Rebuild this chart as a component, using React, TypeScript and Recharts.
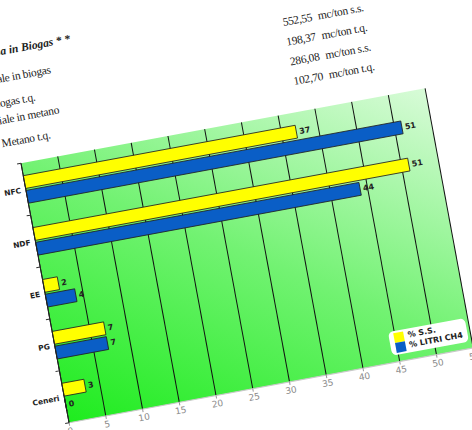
import React from "react";
import {
  BarChart,
  Bar,
  XAxis,
  YAxis,
  CartesianGrid,
  LabelList,
} from "recharts";

const categories = ["NFC", "NDF", "EE", "PG", "Ceneri"];
const ssValues = [37, 51, 2, 7, 3];
const ch4Values = [51, 44, 4, 7, 0];
const xTicks = [0, 5, 10, 15, 20, 25, 30, 35, 40, 45, 50, 55];

const leftLines = [
  "Produzione potenziale in biogas",
  "Produzione biogas t.q.",
  "Produzione potenziale in metano",
  "Prod. Metano t.q.",
];
const rightNumbers = ["552,55", "198,37", "286,08", "102,70"];
const rightUnits = ["mc/ton s.s.", "mc/ton t.q.", "mc/ton s.s.", "mc/ton t.q."];

// where the page lines sit, in the rotated sheet
const leftEnds = [106, 86, 107, 94];
const leftRows = [85, 109, 126, 149];
const rightRows = [81, 101, 121, 141];

const data = categories.map((name, i) => ({
  name,
  ss: ssValues[i],
  ch4: ch4Values[i],
}));

const PLOT_LEFT = 60;
const BAND = 264 / categories.length;

const CategoryTick = (props: any) => {
  const { y, payload, index } = props;
  return (
    <g>
      <line x1={PLOT_LEFT - 4} x2={PLOT_LEFT} y1={y - BAND / 2} y2={y - BAND / 2} stroke="#333" />
      {index === categories.length - 1 && (
        <line x1={PLOT_LEFT - 4} x2={PLOT_LEFT} y1={y + BAND / 2} y2={y + BAND / 2} stroke="#333" />
      )}
      <text
        x={PLOT_LEFT - 5}
        y={y}
        dy={3}
        textAnchor="end"
        fontFamily="DejaVu Sans"
        fontWeight="bold"
        fontSize={7.5}
        fill="#222"
      >
        {payload.value}
      </text>
    </g>
  );
};

const labelStyle = {
  fontFamily: "DejaVu Sans",
  fontWeight: "bold" as const,
  fontSize: 8,
  fill: "#222",
};

const serif = { fontFamily: "Liberation Serif", fontSize: 11.5, color: "#222", whiteSpace: "nowrap" as const };

// keep a zero bar in the list so its "0" label is still drawn
const keepZero = (v: number) => (v === 0 ? 0.01 : 0);

export default function App() {
  return (
    <div
      style={{
        position: "fixed",
        left: 0,
        top: 0,
        width: 472,
        height: 430,
        overflow: "hidden",
        background: "#fff",
      }}
    >
      <svg width={0} height={0} style={{ position: "absolute" }}>
        <defs>
          <linearGradient id="bgGrad" x1="0" y1="1" x2="1" y2="0">
            <stop offset="0%" stopColor="#1eec1e" />
            <stop offset="50%" stopColor="#72f272" />
            <stop offset="100%" stopColor="#d8fbd8" />
          </linearGradient>
        </defs>
      </svg>
      <div
        style={{
          position: "absolute",
          left: -69,
          top: 6.7,
          width: 560,
          height: 500,
          transformOrigin: "0 0",
          transform: "rotate(-10.5deg)",
        }}
      >
        <div
          style={{
            ...serif,
            position: "absolute",
            left: 131 - 300,
            width: 300,
            top: 58 - 8,
            textAlign: "right",
            fontWeight: "bold",
            fontStyle: "italic",
          }}
        >
          Resa in Biogas * *
        </div>
        {leftLines.map((t, i) => (
          <div
            key={t}
            style={{
              ...serif,
              position: "absolute",
              left: leftEnds[i] - 300,
              width: 300,
              top: leftRows[i] - 8,
              textAlign: "right",
              letterSpacing: -0.3,
            }}
          >
            {t}
          </div>
        ))}
        {rightNumbers.map((n, i) => (
          <div
            key={n}
            style={{
              ...serif,
              position: "absolute",
              left: 343,
              top: rightRows[i] - 8,
              letterSpacing: -0.3,
            }}
          >
            {n}
            <span style={{ marginLeft: 6 }}>{rightUnits[i]}</span>
          </div>
        ))}

        <div style={{ position: "absolute", left: 0, top: 150 }}>
          <BarChart
            width={500}
            height={330}
            data={data}
            layout="vertical"
            margin={{ top: 20, right: 29, left: 0, bottom: 16 }}
            barCategoryGap="24%"
            barGap={2}
          >
            <CartesianGrid horizontal={false} stroke="#111" fill="url(#bgGrad)" fillOpacity={1} />
            <XAxis
              type="number"
              domain={[0, 55]}
              ticks={xTicks}
              interval={0}
              height={30}
              tickSize={3}
              axisLine={{ stroke: "#c8c8c8" }}
              tickLine={{ stroke: "#999" }}
              tick={{ fontFamily: "DejaVu Sans", fontSize: 9, fill: "#8a8a8a" }}
            />
            <YAxis
              type="category"
              dataKey="name"
              width={60}
              axisLine={{ stroke: "#222" }}
              tickLine={false}
              tick={<CategoryTick />}
            />
            <Bar dataKey="ss" fill="#ffff00" stroke="#222" strokeWidth={0.8} isAnimationActive={false}>
              <LabelList dataKey="ss" position="right" offset={3} style={labelStyle} />
            </Bar>
            <Bar
              dataKey="ch4"
              fill="#0a5ec6"
              stroke="#222"
              strokeWidth={0.8}
              minPointSize={keepZero}
              isAnimationActive={false}
            >
              <LabelList dataKey="ch4" position="right" offset={3} style={labelStyle} />
            </Bar>
          </BarChart>
        </div>

        <div
          style={{
            position: "absolute",
            left: 390,
            top: 403,
            width: 78,
            height: 24,
            background: "#fff",
            borderRadius: 5,
            boxSizing: "border-box",
            padding: "2px 5px",
            fontFamily: "DejaVu Sans",
            fontWeight: "bold",
            fontSize: 8,
            color: "#222",
            lineHeight: "10px",
          }}
        >
          {[
            { name: "% S.S.", color: "#ffff00" },
            { name: "% LITRI CH4", color: "#0a5ec6" },
          ].map((e) => (
            <div key={e.name} style={{ display: "flex", alignItems: "center", whiteSpace: "nowrap" }}>
              <span style={{ width: 10, height: 10, background: e.color, marginRight: 4, display: "inline-block" }} />
              {e.name}
            </div>
          ))}
        </div>
      </div>
    </div>
  );
}
